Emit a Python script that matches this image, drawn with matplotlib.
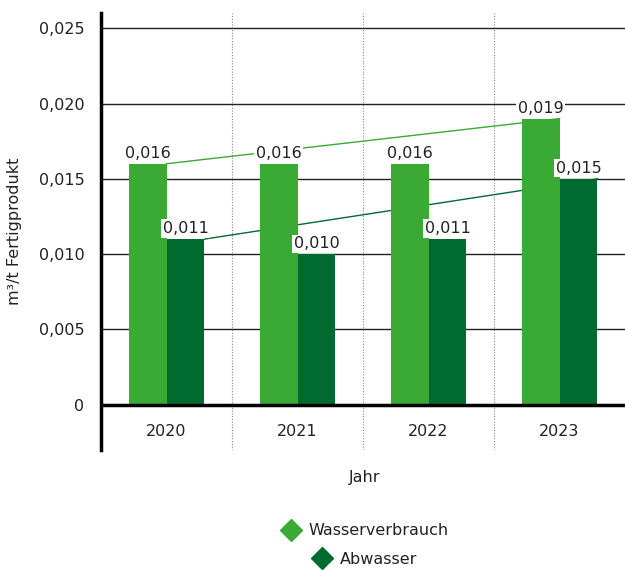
import matplotlib.pyplot as plt
from matplotlib.lines import Line2D
import numpy as np

# Daten
jahre = ["2020", "2021", "2022", "2023"]
wasserverbrauch = [0.016, 0.016, 0.016, 0.019]
abwasser = [0.011, 0.010, 0.011, 0.015]
y_ticks = [0, 0.005, 0.010, 0.015, 0.020, 0.025]

HELL = "#3aaa35"
DUNKEL = "#006a31"
TEXT = "#222222"
BREITE = 0.29
FS = 11.5

plt.rcParams["font.family"] = ["DejaVu Sans"]

fig = plt.figure(figsize=(6.25, 5.7), dpi=100)
ax = fig.add_axes([0.1616, 0.2105, 0.8384, 0.7665])

x = np.arange(len(jahre))

# Trendlinien hinter den Balken
ax.plot([x[0], x[-1]], [wasserverbrauch[0], wasserverbrauch[-1]],
        color=HELL, lw=1, zorder=2)
ax.plot([x[0] + BREITE, x[-1] + BREITE], [abwasser[0], abwasser[-1]],
        color=DUNKEL, lw=1, zorder=2)

ax.bar(x - BREITE / 2, wasserverbrauch, BREITE, color=HELL, zorder=3)
ax.bar(x + BREITE / 2, abwasser, BREITE, color=DUNKEL, zorder=3)


def fmt(v, n=3):
    return f"{v:.{n}f}".replace(".", ",")


for xi, v in zip(x, wasserverbrauch):
    ax.text(xi - BREITE / 2, v + 0.0002, fmt(v), ha="center", va="bottom",
            fontsize=FS, color=TEXT, zorder=4,
            bbox=dict(boxstyle="square,pad=0.1", fc="white", ec="none"))
for xi, v in zip(x, abwasser):
    ax.text(xi + BREITE / 2, v + 0.0002, fmt(v), ha="center", va="bottom",
            fontsize=FS, color=TEXT, zorder=4,
            bbox=dict(boxstyle="square,pad=0.1", fc="white", ec="none"))

# Gitter
for t in y_ticks[1:]:
    ax.axhline(t, color="#222222", lw=1, zorder=1)
ax.axhline(0, color="black", lw=2.5, zorder=5)
for xs in x[:-1] + 0.5:
    ax.axvline(xs, color="#888888", lw=0.8, ls=(0, (1, 1.5)), zorder=1)

ax.set_xlim(-0.5, 3.5)
ax.set_ylim(-0.003, 0.026)
ax.set_yticks(y_ticks)
ax.set_yticklabels(["0"] + [fmt(t) for t in y_ticks[1:]], fontsize=FS,
                   color=TEXT)
ax.tick_params(axis="y", length=0, pad=12)
ax.set_xticks([])
for s in ["top", "right", "bottom"]:
    ax.spines[s].set_visible(False)
ax.spines["left"].set_linewidth(2.5)

for xi, j in zip(x, jahre):
    ax.text(xi, -0.0018, j, ha="center", va="center", fontsize=FS,
            color=TEXT)

ax.set_ylabel("m³/t Fertigprodukt", fontsize=FS, color=TEXT, labelpad=12)
fig.text(0.584, 0.163, "Jahr", ha="center", va="center", fontsize=FS,
         color=TEXT)

h1 = [Line2D([], [], marker="D", color=HELL, ls="none", markersize=11)]
h2 = [Line2D([], [], marker="D", color=DUNKEL, ls="none", markersize=11)]
leg1 = fig.legend(h1, ["Wasserverbrauch"], loc="center",
                  bbox_to_anchor=(0.584, 0.069), frameon=False,
                  fontsize=FS, handletextpad=0.5, handlelength=1.2,
                  labelcolor=TEXT)
fig.legend(h2, ["Abwasser"], loc="center", bbox_to_anchor=(0.584, 0.019),
           frameon=False, fontsize=FS, handletextpad=0.5, handlelength=1.2,
           labelcolor=TEXT)

fig.savefig("out.png", dpi=100)
